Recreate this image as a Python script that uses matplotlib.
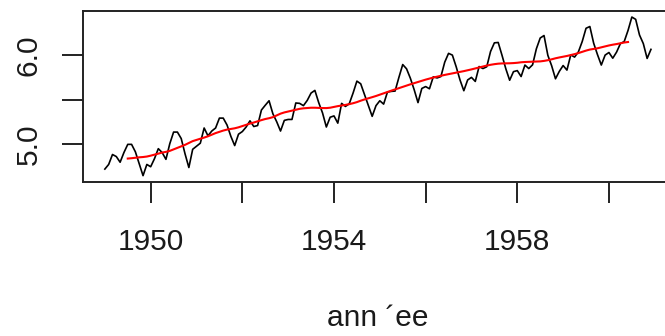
import numpy as np
import matplotlib.pyplot as plt

# monthly airline passengers 1949-1960 (thousands)
passengers = [
    112, 118, 132, 129, 121, 135, 148, 148, 136, 119, 104, 118,
    115, 126, 141, 135, 125, 149, 170, 170, 158, 133, 114, 140,
    145, 150, 178, 163, 172, 178, 199, 199, 184, 162, 146, 166,
    171, 180, 193, 181, 183, 218, 230, 242, 209, 191, 172, 194,
    196, 196, 236, 235, 229, 243, 264, 272, 237, 211, 180, 201,
    204, 188, 235, 227, 234, 264, 302, 293, 259, 229, 203, 229,
    242, 233, 267, 269, 270, 315, 364, 347, 312, 274, 237, 278,
    284, 277, 317, 313, 318, 374, 413, 405, 355, 306, 271, 306,
    315, 301, 356, 348, 355, 422, 465, 467, 404, 347, 305, 336,
    340, 318, 362, 348, 363, 435, 491, 505, 404, 359, 310, 337,
    360, 342, 406, 396, 420, 472, 548, 559, 463, 407, 362, 405,
    417, 391, 419, 461, 472, 535, 622, 606, 508, 461, 390, 432,
]
start_year = 1949
x_ticks = [1950, 1952, 1954, 1956, 1958, 1960]
x_labels = ["1950", "", "1954", "", "1958", ""]
y_ticks = [5.0, 5.5, 6.0]
y_labels = ["5.0", "", "6.0"]

y = np.log(passengers)
t = start_year + np.arange(len(y)) / 12.0

# centred 2x12 moving average (trend)
w = np.r_[0.5, np.ones(11), 0.5] / 12.0
trend = np.convolve(y, w, mode="valid")
t_trend = t[6:len(t) - 6]

plt.rcParams['font.family'] = ['Liberation Sans', 'DejaVu Sans']

fig = plt.figure(figsize=(6.65, 3.36), dpi=100)
ax = fig.add_axes([83 / 665, 1 - 182 / 336, (672.8 - 83) / 665, (182 - 10.7) / 336])

ax.plot(t, y, color="black", lw=1.2)
ax.plot(t_trend, trend, color="#ff0000", lw=1.5)

rng = t[-1] - t[0]
ax.set_xlim(t[0] - 0.04 * rng, t[-1] + 0.04 * rng)
yr = y.max() - y.min()
ax.set_ylim(y.min() - 0.04 * yr, y.max() + 0.04 * yr)

ax.set_xticks(x_ticks)
ax.set_xticklabels(x_labels)
ax.set_yticks(y_ticks)
ax.set_yticklabels(y_labels, rotation=90, va="center")

for s in ax.spines.values():
    s.set_linewidth(1.4)
    s.set_color("#222222")
ax.tick_params(direction="out", length=15, width=1.4, color="#222222",
               labelsize=21.5, labelcolor="#1a1a1a")
ax.tick_params(axis="x", pad=18)
ax.tick_params(axis="y", pad=14)

ax.set_xlabel("ann \u00b4ee", fontsize=21.5, color="#1a1a1a", labelpad=35)

fig.savefig("out.png", dpi=100)
